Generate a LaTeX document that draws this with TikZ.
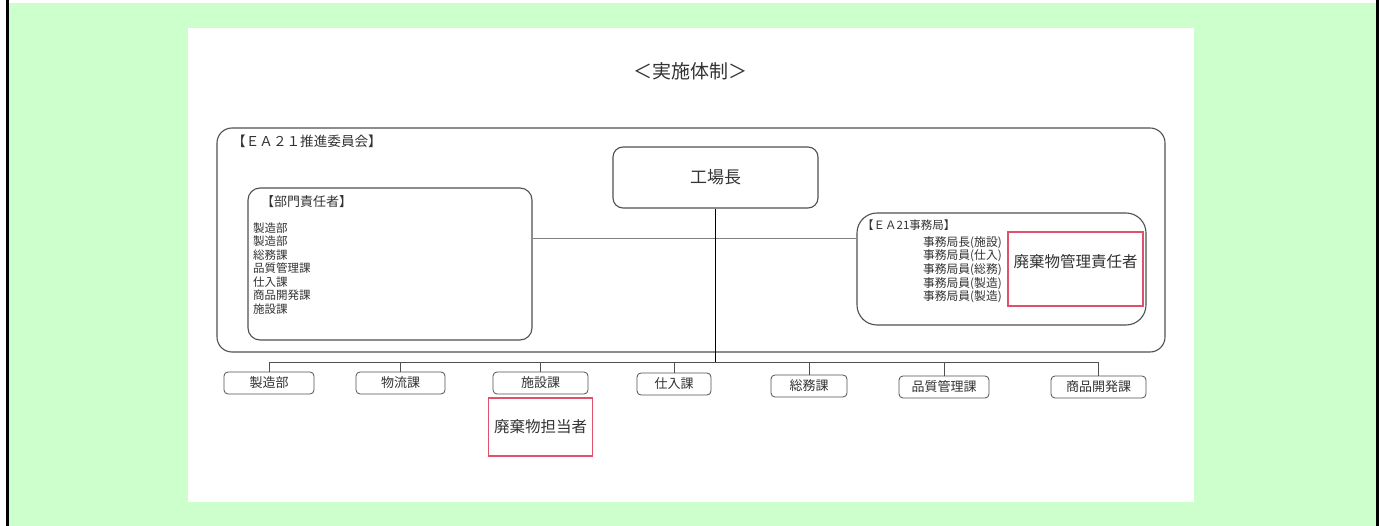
\documentclass[tikz,border=0pt]{standalone}
\usepackage{fontspec}
\newfontfamily\jp{Noto Sans CJK JP}
\usetikzlibrary{positioning}
\definecolor{pagegreen}{HTML}{CCFFCC}
\definecolor{inkgray}{HTML}{333333}
\definecolor{linegray}{HTML}{505050}
\definecolor{dutyred}{HTML}{E0506A}
\newcommand{\jpsize}[1]{\jp\fontsize{#1}{#1}\selectfont}
\tikzset{
  grp/.style={draw=linegray,line width=1.1pt,rounded corners=#1,inner sep=0pt,text=inkgray},
  grp/.default=12pt,
  unitbox/.style={draw=linegray,line width=0.8pt,rounded corners=4pt,minimum height=22pt,inner sep=0pt,font=\jpsize{13},text=inkgray},
  dutybox/.style={draw=dutyred,line width=1.3pt,inner sep=0pt,font=\jpsize{15.5},text=inkgray},
  link/.style={draw=linegray,line width=0.8pt},
  txt/.style={inner sep=0pt,text=inkgray}
}

\begin{document}
\begin{tikzpicture}[x=1pt,y=-1pt]
  \useasboundingbox (0,0) rectangle (1379,526);
  \fill[white] (0,0) rectangle (1379,526);
  \fill[pagegreen] (9,3) rectangle (1376,526);
  \fill[black] (6,0) rectangle (9,526);
  \fill[black] (1376,0) rectangle (1379,526);
  \fill[white] (188,28) rectangle (1194,502);

  \node[txt,font=\jpsize{19}] (title) at (690,71) {＜実施体制＞};

  % committee frame
  \node[grp=15pt,minimum width=948pt,minimum height=224pt] (iinkai) at (691,240) {};
  \node[txt,anchor=west,font=\jpsize{13.6}] (iinkailbl) at (232,141) {【ＥＡ２１推進委員会】};
  \node[grp=10pt,minimum width=205pt,minimum height=61pt,font=\jpsize{17}] (chief) at (715.5,177.5) {工場長};

  % department heads
  \node[grp=12pt,minimum width=284pt,minimum height=152pt] (bumon) at (390,264) {};
  \node[txt,anchor=west,font=\jpsize{13}] (bumonlbl) at (261,202) {【部門責任者】};
  \foreach \t [count=\i] in {製造部,製造部,総務課,品質管理課,仕入課,商品開発課,施設課}
    \node[txt,anchor=west,font=\jpsize{11.5}] (bm\i) at (253,214.5+13.5*\i) {\t};

  % secretariat
  \node[grp=20pt,minimum width=289pt,minimum height=112pt] (jimu) at (1001.5,269) {};
  \node[txt,anchor=west,font=\jpsize{11.5}] (jimulbl) at (862,225) {【ＥＡ21事務局】};
  \foreach \t [count=\i] in {事務局長(施設),事務局員(仕入),事務局員(総務),事務局員(製造),事務局員(製造)}
    \node[txt,anchor=east,font=\jpsize{11.8}] (jm\i) at (1002,228.5+13.7*\i) {\t};
  \node[dutybox,minimum width=135pt,minimum height=74pt,
        label={[txt,font=\jpsize{15.5},yshift=7pt]center:廃棄物管理責任者}] (kanri) at (1075.5,269) {};

  % sections
  \foreach \nm/\x/\y/\w/\t in {sz/269/383/90/製造部, bt/400.5/383/89/物流課, ss/540.5/383/95/施設課,
      si/674/384/74/仕入課, sm/809/386/76/総務課, hk/944/387/90/品質管理課, sk/1098.5/387/95/商品開発課}
    \node[unitbox,minimum width=\w pt] (\nm) at (\x,\y) {\t};
  \node[dutybox,minimum width=104pt,minimum height=58pt,below=3pt of ss] (tanto) {廃棄物担当者};

  % lines
  \coordinate (hb) at ([yshift=26pt]bumon.east);
  \draw[link,draw=gray] (hb) -- (hb -| jimu.west);
  \coordinate (busL) at (269,362);
  \coordinate (busR) at (1098.5,362);
  \draw[link] (busL) -- (busR);
  \draw[link,draw=black] (chief.south) -- (chief.south |- busL);
  \foreach \nm in {sz,bt,ss,si,sm,hk,sk}
    \draw[link] (\nm.north) -- (\nm.north |- busL);
\end{tikzpicture}
\end{document}
